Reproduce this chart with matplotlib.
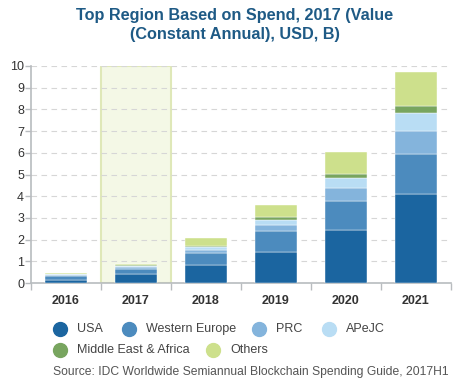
import matplotlib.pyplot as plt
import numpy as np

plt.rcParams['font.family'] = ['Liberation Sans', 'DejaVu Sans']

years = ["2016", "2017", "2018", "2019", "2020", "2021"]
regions = ["USA", "Western Europe", "PRC", "APeJC", "Middle East & Africa", "Others"]
colores = ["#1b65a0", "#4c8bbe", "#84b4dc", "#b9ddf4", "#78a55f", "#cde08c"]

usa = [0.12, 0.43, 0.82, 1.41, 2.43, 4.10]
europa = [0.19, 0.20, 0.55, 0.97, 1.37, 1.83]
prc = [0.06, 0.09, 0.14, 0.28, 0.56, 1.06]
apejc = [0.03, 0.08, 0.13, 0.24, 0.46, 0.86]
mea = [0.02, 0.02, 0.07, 0.13, 0.19, 0.29]
otros = [0.02, 0.04, 0.38, 0.56, 1.04, 1.58]
series = [usa, europa, prc, apejc, mea, otros]

destacado = "2017"

fig = plt.figure(figsize=(4.7, 3.86), dpi=100)
ax = fig.add_axes([31 / 470, 103 / 386, 420 / 470, 217 / 386])

x = np.arange(len(years))
i = years.index(destacado)
ax.bar(i, 10, width=1.0, color="#f4f8e6", edgecolor="#dfe8b8", linewidth=1.5, zorder=0)

base = np.zeros(len(years))
for nombre, valores, color in zip(regions, series, colores):
    ax.bar(x, valores, bottom=base, width=0.59, color=color, edgecolor="white",
           linewidth=0.3, zorder=3, label=nombre)
    base = base + np.array(valores)

ax.set_xlim(-0.5, len(years) - 0.5)
ax.set_ylim(0, 10)
ax.set_yticks(range(0, 11))
ax.yaxis.grid(True, linestyle=(0, (5, 4)), color="#d6d6d6", linewidth=0.8, zorder=1)
ax.set_axisbelow(True)

for lado in ["top", "right"]:
    ax.spines[lado].set_visible(False)
ax.spines["left"].set_color("#b8bcbf")
ax.spines["bottom"].set_color("#b8bcbf")
ax.spines["left"].set_linewidth(1.2)
ax.spines["bottom"].set_linewidth(1.2)

ax.set_xticks(np.arange(-0.5, len(years)), minor=False)
ax.set_xticklabels([])
ax.set_xticks(x, minor=True)
ax.set_xticklabels(years, minor=True, fontsize=9, fontweight="bold", color="#333333")
ax.tick_params(axis="x", which="major", length=5, color="#b8bcbf", width=1)
ax.tick_params(axis="x", which="minor", length=0, pad=9)
ax.tick_params(axis="y", length=4, color="#b8bcbf", width=1, labelsize=9,
               labelcolor="#333333", pad=1)

fig.text(0.5, 0.978, "Top Region Based on Spend, 2017 (Value\n(Constant Annual), USD, B)",
         ha="center", va="top", fontsize=11.7, fontweight="bold", color="#1e5a85",
         linespacing=1.32)

# leyenda manual en dos filas
pos_leyenda = [(60, 329), (129, 329), (259, 329), (329, 329), (60, 350), (213, 350)]
for (px, py), nombre, color in zip(pos_leyenda, regions, colores):
    fig.add_artist(plt.Line2D([px / 470], [1 - py / 386], marker="o", markersize=10,
                              color=color, linestyle="none", transform=fig.transFigure))
    fig.text((px + 17) / 470, 1 - py / 386, nombre, ha="left", va="center",
             fontsize=9, color="#444444")

fig.text(53 / 470, 1 - 372 / 386,
         "Source: IDC Worldwide Semiannual Blockchain Spending Guide, 2017H1",
         ha="left", va="center", fontsize=8.75, color="#555555")

fig.savefig("out.png", dpi=100)
